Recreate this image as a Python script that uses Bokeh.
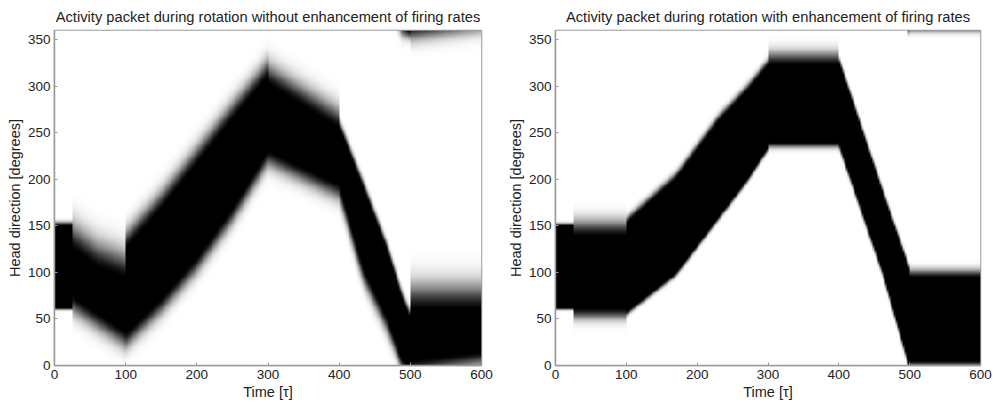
import numpy as np
from bokeh.plotting import figure
from bokeh.layouts import row
from bokeh.models import Range1d, FixedTicker, LinearColorMapper
from bokeh.embed import file_html
from bokeh.resources import INLINE

# ---------------- data ----------------
TIME_TICKS = [0, 100, 200, 300, 400, 500, 600]
DIR_TICKS = [0, 50, 100, 150, 200, 250, 300, 350]

TITLE_LEFT = "Activity packet during rotation without enhancement of firing rates"
TITLE_RIGHT = "Activity packet during rotation with enhancement of firing rates"

# Left panel: activity packet key frames (time, core lower edge, core upper edge,
# spread below, spread above) in degrees
L_T   = [0,   25,  25,  60,  100, 100, 150, 200, 250, 300, 300, 400, 400, 434, 468, 488, 500, 500, 600]
L_LO  = [62,  62,  76,  58,  38,  36,  73,  117, 170, 232, 232, 196, 196, 106, 52,  8,   0,   6,   16]
L_HI  = [150, 150, 124, 104, 92,  124, 167, 215, 263, 309, 301, 253, 256, 190, 122, 72,  50,  58,  58]
L_SLO = [1.5, 1.5, 13,  13,  13,  12,  12,  12,  12,  12,  12,  12,  12,  12,  12,  9,   6,   11,  11]
L_SHI = [3,   3,   20,  20,  20,  14,  14,  14,  14,  14,  16,  16,  6,   6,   6,   6,   6,   20,  20]

# Right panel key frames
R_T   = [0,   25,  25,  100, 100, 170, 230, 270, 300, 300, 400, 400, 462, 500, 500, 600]
R_LO  = [62,  62,  62,  62,  58,  100, 160, 200, 235, 240, 240, 240, 102, 0,   5,   5]
R_HI  = [150, 150, 138, 138, 152, 200, 262, 294, 322, 322, 322, 326, 184, 100, 94,  94]
R_SLO = [1.5, 1.5, 8,   8,   3,   3,   3,   3,   3,   4,   4,   4,   4,   4,   4,   4]
R_SHI = [2,   2,   12,  12,  5,   5,   5,   5,   5,   10,  10,  4,   4,   4,   6,   6]


def keyframe(T, V, tc):
    T = np.asarray(T, float)
    V = np.asarray(V, float)
    k = np.searchsorted(T, tc, side="right") - 1
    k = np.clip(k, 0, len(T) - 2)
    t0, t1 = T[k], T[k + 1]
    f = np.where(t1 > t0, (tc - t0) / np.where(t1 > t0, t1 - t0, 1), 0.0)
    return V[k] + f * (V[k + 1] - V[k])


def packet_image(T, LO, HI, SLO, SHI, dt=2.5, dd=1.0):
    tc = np.arange(dt / 2, 600, dt)
    dc = np.arange(dd / 2, 360, dd)
    lo = keyframe(T, LO, tc)[None, :]
    hi = keyframe(T, HI, tc)[None, :]
    slo = keyframe(T, SLO, tc)[None, :]
    shi = keyframe(T, SHI, tc)[None, :]
    d = dc[:, None]
    inside = (d >= lo) & (d <= hi)
    db = np.mod(lo - d, 360.0)
    da = np.mod(d - hi, 360.0)
    a = np.maximum(np.exp(-0.5 * (db / slo) ** 2), np.exp(-0.5 * (da / shi) ** 2))
    return np.where(inside, 1.0, a)


palette = ["#%02x%02x%02x" % (v, v, v) for v in range(255, -1, -1)]
AX = "#9a9a9a"
FONT = "Liberation Sans"


def panel(title, img, bl, br, fw):
    p = figure(frame_width=fw, frame_height=335,
               x_range=Range1d(0, 600), y_range=Range1d(0, 360),
               output_backend="svg", toolbar_location=None,
               min_border_left=bl, min_border_right=br,
               min_border_top=30, min_border_bottom=44,
               title=title)
    mapper = LinearColorMapper(palette=palette, low=0, high=1)
    p.image(image=[img], x=0, y=0, dw=600, dh=360, color_mapper=mapper)
    p.grid.visible = False
    p.outline_line_color = AX
    p.outline_line_width = 1.5
    p.background_fill_color = "white"
    p.border_fill_color = "white"
    p.title.text_font = FONT
    p.title.text_font_size = "14.7px"
    p.title.text_font_style = "normal"
    p.title.text_color = "#222222"
    p.title.align = "center"
    p.title.standoff = 11
    for ax in (p.xaxis[0], p.yaxis[0]):
        ax.axis_line_color = AX
        ax.axis_line_width = 1.5
        ax.major_tick_line_color = AX
        ax.major_tick_in = 3
        ax.major_tick_out = 0
        ax.minor_tick_line_color = None
        ax.major_label_text_font = FONT
        ax.major_label_text_font_size = "13.5px"
        ax.major_label_text_color = "#222222"
        ax.major_label_standoff = 4
        ax.axis_label_text_font = FONT
        ax.axis_label_text_font_size = "14.5px"
        ax.axis_label_text_font_style = "normal"
        ax.axis_label_text_color = "#222222"
        ax.axis_label_standoff = 2
    p.xaxis[0].ticker = FixedTicker(ticks=TIME_TICKS)
    p.yaxis[0].ticker = FixedTicker(ticks=DIR_TICKS)
    p.xaxis[0].axis_label = "Time [τ]"
    p.yaxis[0].axis_label = "Head direction [degrees]"
    return p


img_l = packet_image(L_T, L_LO, L_HI, L_SLO, L_SHI)
img_r = packet_image(R_T, R_LO, R_HI, R_SLO, R_SHI)

p1 = panel(TITLE_LEFT, img_l, 54, 15, 427)
p2 = panel(TITLE_RIGHT, img_r, 59, 13, 425)

layout = row(p1, p2)
open("out.html", "w").write(file_html(layout, INLINE))
